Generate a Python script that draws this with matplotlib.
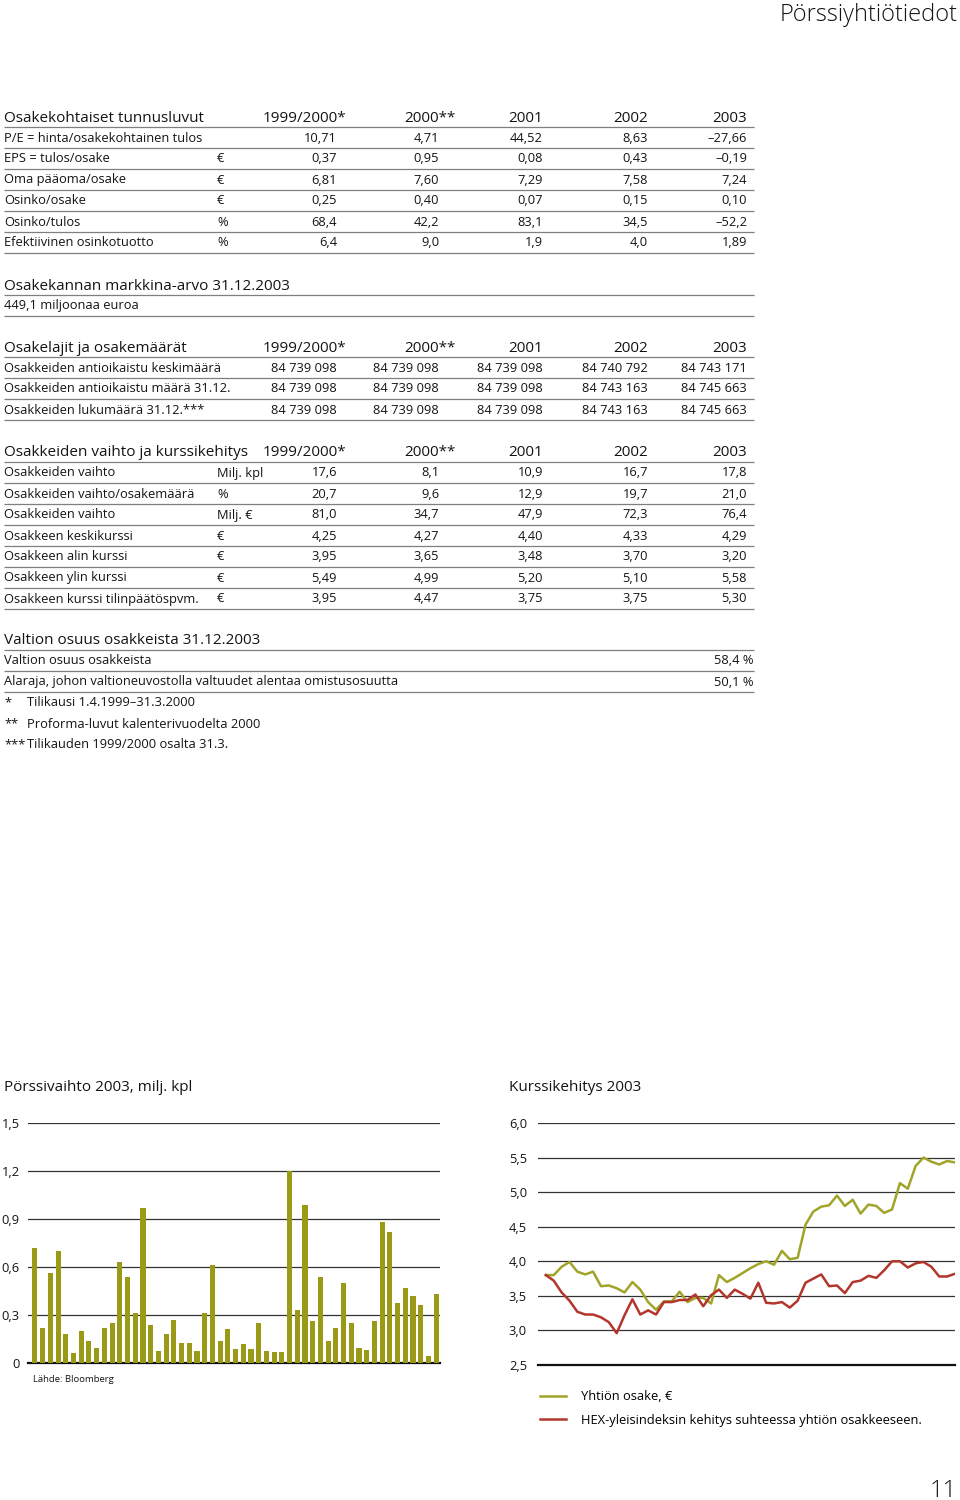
import matplotlib
matplotlib.use('Agg')
import matplotlib.pyplot as plt
import numpy as np

plt.rcParams['font.family'] = ['Open Sans', 'DejaVu Sans']

# ---------------- data ----------------
years = ['1999/2000*', '2000**', '2001', '2002', '2003']

kpi_title = 'Osakekohtaiset tunnusluvut'
kpi_rows = ['P/E = hinta/osakekohtainen tulos', 'EPS = tulos/osake', 'Oma pääoma/osake',
            'Osinko/osake', 'Osinko/tulos', 'Efektiivinen osinkotuotto']
kpi_units = ['', '€', '€', '€', '%', '%']
kpi_values = [['10,71', '4,71', '44,52', '8,63', '–27,66'],
              ['0,37', '0,95', '0,08', '0,43', '–0,19'],
              ['6,81', '7,60', '7,29', '7,58', '7,24'],
              ['0,25', '0,40', '0,07', '0,15', '0,10'],
              ['68,4', '42,2', '83,1', '34,5', '–52,2'],
              ['6,4', '9,0', '1,9', '4,0', '1,89']]

mcap_title = 'Osakekannan markkina-arvo 31.12.2003'
mcap_text = '449,1 miljoonaa euroa'

shares_title = 'Osakelajit ja osakemäärät'
shares_rows = ['Osakkeiden antioikaistu keskimäärä', 'Osakkeiden antioikaistu määrä 31.12.',
               'Osakkeiden lukumäärä 31.12.***']
shares_units = ['', '', '']
shares_values = [['84 739 098', '84 739 098', '84 739 098', '84 740 792', '84 743 171'],
                 ['84 739 098', '84 739 098', '84 739 098', '84 743 163', '84 745 663'],
                 ['84 739 098', '84 739 098', '84 739 098', '84 743 163', '84 745 663']]

trade_title = 'Osakkeiden vaihto ja kurssikehitys'
trade_rows = ['Osakkeiden vaihto', 'Osakkeiden vaihto/osakemäärä', 'Osakkeiden vaihto',
              'Osakkeen keskikurssi', 'Osakkeen alin kurssi', 'Osakkeen ylin kurssi',
              'Osakkeen kurssi tilinpäätöspvm.']
trade_units = ['Milj. kpl', '%', 'Milj. €', '€', '€', '€', '€']
trade_values = [['17,6', '8,1', '10,9', '16,7', '17,8'],
                ['20,7', '9,6', '12,9', '19,7', '21,0'],
                ['81,0', '34,7', '47,9', '72,3', '76,4'],
                ['4,25', '4,27', '4,40', '4,33', '4,29'],
                ['3,95', '3,65', '3,48', '3,70', '3,20'],
                ['5,49', '4,99', '5,20', '5,10', '5,58'],
                ['3,95', '4,47', '3,75', '3,75', '5,30']]

state_title = 'Valtion osuus osakkeista 31.12.2003'
state_rows = ['Valtion osuus osakkeista',
              'Alaraja, johon valtioneuvostolla valtuudet alentaa omistusosuutta']
state_values = ['58,4 %', '50,1 %']

footnote_marks = ['*', '**', '***']
footnote_texts = ['Tilikausi 1.4.1999–31.3.2000', 'Proforma-luvut kalenterivuodelta 2000',
                  'Tilikauden 1999/2000 osalta 31.3.']

# weekly trading volume 2003, million shares
volume_weekly = [0.72, 0.22, 0.565, 0.70, 0.18, 0.06, 0.20, 0.135, 0.094, 0.22,
                 0.25, 0.63, 0.54, 0.31, 0.97, 0.24, 0.077, 0.18, 0.27, 0.125,
                 0.125, 0.073, 0.31, 0.61, 0.14, 0.215, 0.085, 0.117, 0.085, 0.25,
                 0.077, 0.067, 0.067, 1.20, 0.333, 0.99, 0.26, 0.535, 0.14, 0.22,
                 0.50, 0.25, 0.092, 0.081, 0.26, 0.88, 0.82, 0.375, 0.467, 0.42,
                 0.36, 0.044, 0.43]
volume_ticks = [0, 0.3, 0.6, 0.9, 1.2, 1.5]
volume_ticklabels = ['0', '0,3', '0,6', '0,9', '1,2', '1,5']

share_price = [3.80, 3.80, 3.92, 3.99, 3.85, 3.81, 3.85, 3.64, 3.65, 3.61,
               3.55, 3.70, 3.59, 3.41, 3.30, 3.42, 3.42, 3.56, 3.41, 3.47,
               3.47, 3.39, 3.80, 3.70, 3.76, 3.83, 3.90, 3.96, 4.00, 3.95,
               4.15, 4.03, 4.05, 4.53, 4.72, 4.79, 4.81, 4.95, 4.80, 4.89,
               4.69, 4.82, 4.80, 4.70, 4.75, 5.13, 5.05, 5.38, 5.50, 5.44,
               5.40, 5.45, 5.43]
hex_index = [3.80, 3.72, 3.55, 3.43, 3.27, 3.23, 3.23, 3.19, 3.12, 2.96,
             3.22, 3.45, 3.23, 3.29, 3.23, 3.41, 3.41, 3.44, 3.44, 3.52,
             3.35, 3.51, 3.59, 3.47, 3.59, 3.53, 3.46, 3.69, 3.40, 3.39,
             3.41, 3.33, 3.43, 3.69, 3.75, 3.81, 3.64, 3.65, 3.54, 3.70,
             3.72, 3.79, 3.76, 3.87, 4.00, 4.00, 3.91, 3.97, 3.99, 3.92,
             3.78, 3.78, 3.82]
price_ticks = [2.5, 3.0, 3.5, 4.0, 4.5, 5.0, 5.5, 6.0]
price_ticklabels = ['2,5', '3,0', '3,5', '4,0', '4,5', '5,0', '5,5', '6,0']
legend_labels = ['Yhtiön osake, €', 'HEX-yleisindeksin kehitys suhteessa yhtiön osakkeeseen.']

# ---------------- style ----------------
W, H = 960, 1500
TXT = '#141414'
RULE = '#7f7f7f'
HF = 11.0
BF = 9.25
BAR_C = '#9b9a17'
GREEN = '#a0a428'
RED = '#b3362c'

fig = plt.figure(figsize=(W / 100, H / 100), dpi=100)
page = fig.add_axes([0, 0, 1, 1])
page.set_xlim(0, W)
page.set_ylim(H, 0)
page.axis('off')

val_right = [337, 439, 543, 648, 747]
head_right = [346, 456, 543, 648, 747]
UNIT_X = 217
LEFT, RIGHT = 4, 754
PITCH = 21


def rule(y):
    page.plot([LEFT, RIGHT], [y, y], color=RULE, lw=0.9, solid_capstyle='butt')


def header(y, title, cols=None):
    page.text(LEFT, y + 5.5, title, fontsize=HF, color=TXT, va='baseline', ha='left')
    if cols is not None:
        for c, x in zip(cols, head_right):
            page.text(x, y + 5.5, c, fontsize=HF, color=TXT, va='baseline', ha='right')
    rule(y + 11)


def body_row(y, label, unit, vals):
    page.text(LEFT, y + 4.5, label, fontsize=BF, color=TXT, va='baseline', ha='left')
    if unit:
        page.text(UNIT_X, y + 4.5, unit, fontsize=BF, color=TXT, va='baseline', ha='left')
    for v, x in zip(vals, val_right):
        page.text(x, y + 4.5, v, fontsize=BF, color=TXT, va='baseline', ha='right')
    rule(y + 11)


# page title and number
page.text(958, 21, 'Pörssiyhtiötiedot', fontsize=17, color=TXT, ha='right',
          va='baseline', fontweight='light')
page.text(957, 1497, '11', fontsize=17, color=TXT, ha='right', va='baseline',
          fontweight='light')

# section 1
y0 = 116
header(y0, kpi_title, years)
for i, (lab, u, vals) in enumerate(zip(kpi_rows, kpi_units, kpi_values)):
    body_row(y0 + PITCH * (i + 1), lab, u, vals)

# section 2
y0 = 284
header(y0, mcap_title)
body_row(y0 + PITCH, mcap_text, '', [])

# section 3
y0 = 346
header(y0, shares_title, years)
for i, (lab, u, vals) in enumerate(zip(shares_rows, shares_units, shares_values)):
    body_row(y0 + PITCH * (i + 1), lab, u, vals)

# section 4
y0 = 451
header(y0, trade_title, years)
for i, (lab, u, vals) in enumerate(zip(trade_rows, trade_units, trade_values)):
    body_row(y0 + PITCH * (i + 1), lab, u, vals)

# section 5
y0 = 639
header(y0, state_title)
for i, (lab, v) in enumerate(zip(state_rows, state_values)):
    yy = y0 + PITCH * (i + 1)
    page.text(LEFT, yy + 4.5, lab, fontsize=BF, color=TXT, va='baseline', ha='left')
    page.text(RIGHT, yy + 4.5, v, fontsize=BF, color=TXT, va='baseline', ha='right')
    rule(yy + 11)
for i, (m, t) in enumerate(zip(footnote_marks, footnote_texts)):
    yy = y0 + PITCH * (i + 3)
    page.text(LEFT, yy + 4.5, m, fontsize=BF, color=TXT, va='baseline', ha='left')
    page.text(27, yy + 4.5, t, fontsize=BF, color=TXT, va='baseline', ha='left')

# chart titles
page.text(LEFT, 1091, 'Pörssivaihto 2003, milj. kpl', fontsize=HF, color=TXT,
          va='baseline')
page.text(509, 1091, 'Kurssikehitys 2003', fontsize=HF, color=TXT, va='baseline')
page.text(33, 1382, 'Lähde: Bloomberg', fontsize=6.8, color=TXT, va='baseline')


def frac(x0, y_top, x1, y_bot):
    return [x0 / W, 1 - y_bot / H, (x1 - x0) / W, (y_bot - y_top) / H]


def style_axes(ax, ticks, labels, pad):
    for s in ['top', 'right', 'left']:
        ax.spines[s].set_visible(False)
    ax.spines['bottom'].set_linewidth(1.6)
    ax.spines['bottom'].set_color('#111111')
    ax.set_yticks(ticks)
    ax.set_yticklabels(labels)
    ax.tick_params(axis='y', length=0, pad=pad, labelsize=BF, labelcolor=TXT)
    ax.tick_params(axis='x', length=0, labelbottom=False)
    ax.yaxis.grid(True, color='#333333', lw=0.9)
    ax.set_axisbelow(True)
    ax.patch.set_alpha(0)


# bar chart
axb = fig.add_axes(frac(28, 1123, 440, 1363))
xb = np.arange(len(volume_weekly))
axb.bar(xb, volume_weekly, width=0.66, color=BAR_C, zorder=3)
axb.set_xlim(-0.9, len(volume_weekly) - 0.5)
axb.set_ylim(volume_ticks[0], volume_ticks[-1])
style_axes(axb, volume_ticks, volume_ticklabels, 6)

# line chart
axl = fig.add_axes(frac(538, 1123, 955, 1365))
xl = np.arange(len(share_price))
l1, = axl.plot(xl, share_price, color=GREEN, lw=1.8, zorder=3, label=legend_labels[0])
l2, = axl.plot(xl, hex_index, color=RED, lw=1.8, zorder=3, label=legend_labels[1])
axl.set_xlim(-1.0, len(share_price) - 1)
axl.set_ylim(price_ticks[0], price_ticks[-1])
style_axes(axl, price_ticks, price_ticklabels, 21)
for lab in axl.get_yticklabels():
    lab.set_ha('left')

fig.legend(handles=[l1, l2], labels=legend_labels, loc='upper left',
           bbox_to_anchor=(540 / W, 1 - 1390 / H), frameon=False, fontsize=BF,
           handlelength=2.0, handletextpad=1.2, labelspacing=0.85,
           borderaxespad=0, borderpad=0)

fig.savefig('out.png', dpi=100)
